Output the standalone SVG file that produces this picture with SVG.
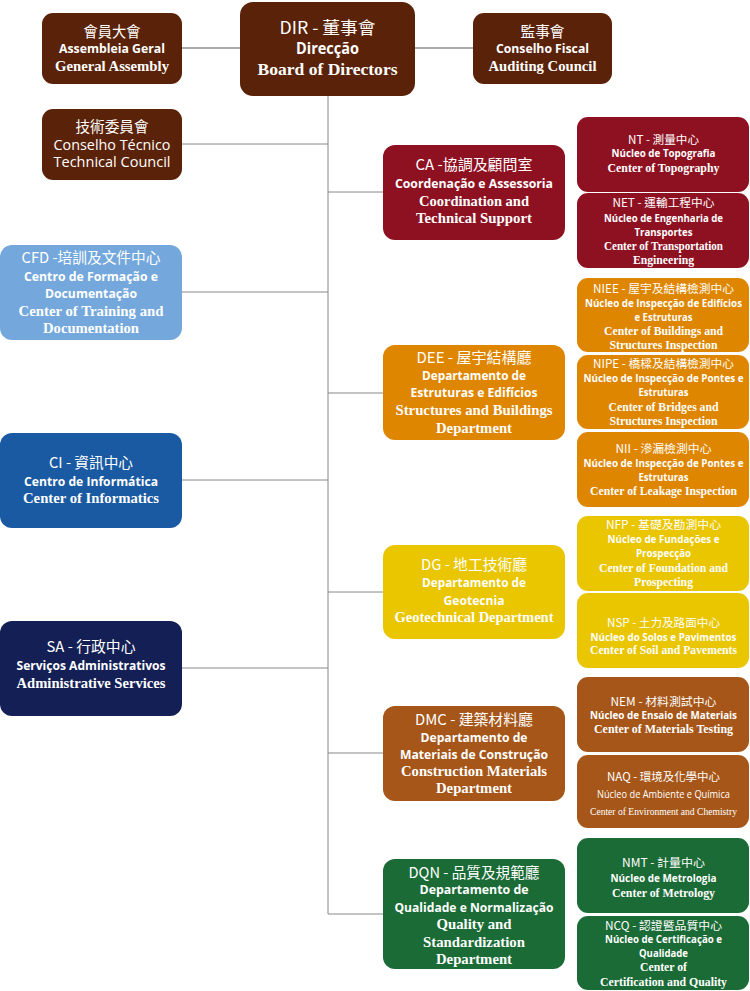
<svg xmlns="http://www.w3.org/2000/svg" width="750" height="991" viewBox="0 0 750 991">
<style>
text{fill:#fff;text-anchor:middle}
.cjk{font-family:"Noto Sans CJK TC","Noto Sans",sans-serif}
.pt{font-family:"Open Sans","Noto Sans",sans-serif;font-weight:700}
.en{font-family:"Liberation Serif",serif;font-weight:700}
.reg{font-weight:400}
.big .cjk{font-size:15px}.big .pt{font-size:13px}.big .en{font-size:14.5px}
.sub .cjk{font-size:11.5px}.sub .pt{font-size:11px}.sub .en{font-size:12.5px}
.sub .pt.lg{font-size:10.5px}
.c1{stroke:#aaa;stroke-width:2;fill:none}
.c2{stroke:#888;stroke-width:1;fill:none}
.top rect{fill:#5a2309}
.ca rect{fill:#8e1122}
.dee rect{fill:#de8600}
.dg rect{fill:#eac600}
.dmc rect{fill:#a55618}
.dqn rect{fill:#1b6b36}
</style>
<g id="connectors">
<path class="c1" d="M182 48H240M415 48H473"/>
<path class="c2" d="M328 96V914M182 144H328M328 192H383M182 292H328M328 393H383M182 480H328M328 592H383M182 668H328M328 753H383M328 914H383"/>
</g>
<g id="assembly" class="top big">
<rect x="42" y="13" width="140" height="71" rx="11"/>
<text x="112" y="37" class="cjk" textLength="57" lengthAdjust="spacingAndGlyphs">會員大會</text>
<text x="112" y="53" class="pt" textLength="106" lengthAdjust="spacingAndGlyphs">Assembleia Geral</text>
<text x="112" y="71" class="en" textLength="114" lengthAdjust="spacingAndGlyphs">General Assembly</text>
</g>
<g id="dir" class="top big">
<rect x="240" y="2" width="175" height="94" rx="13"/>
<text x="327.5" y="34" class="cjk" textLength="96" lengthAdjust="spacingAndGlyphs" style="font-size:17px">DIR - 董事會</text>
<text x="327.5" y="54" class="pt" textLength="63" lengthAdjust="spacingAndGlyphs" style="font-size:16px">Direcção</text>
<text x="327.5" y="75" class="en" textLength="140" lengthAdjust="spacingAndGlyphs" style="font-size:17px">Board of Directors</text>
</g>
<g id="fiscal" class="top big">
<rect x="473" y="13" width="139" height="71" rx="11"/>
<text x="542.5" y="37" class="cjk" textLength="44" lengthAdjust="spacingAndGlyphs">監事會</text>
<text x="542.5" y="53" class="pt" textLength="93" lengthAdjust="spacingAndGlyphs">Conselho Fiscal</text>
<text x="542.5" y="71" class="en" textLength="108" lengthAdjust="spacingAndGlyphs">Auditing Council</text>
</g>
<g id="technical" class="top big">
<rect x="42" y="109" width="140" height="71" rx="11"/>
<text x="112" y="132" class="cjk" textLength="73" lengthAdjust="spacingAndGlyphs">技術委員會</text>
<text x="112" y="150" class="pt reg" textLength="117" lengthAdjust="spacingAndGlyphs" style="font-size:14px">Conselho Técnico</text>
<text x="112" y="167" class="pt reg" textLength="117" lengthAdjust="spacingAndGlyphs" style="font-size:14px">Technical Council</text>
</g>
<g id="cfd" class="big">
<rect x="0" y="245" width="182" height="95" rx="12" fill="#74a8dc"/>
<text x="91" y="263" class="cjk" textLength="139" lengthAdjust="spacingAndGlyphs">CFD -培訓及文件中心</text>
<text x="91" y="281" class="pt" textLength="134" lengthAdjust="spacingAndGlyphs">Centro de Formação e</text>
<text x="91" y="298" class="pt" textLength="92" lengthAdjust="spacingAndGlyphs">Documentação</text>
<text x="91" y="316" class="en" textLength="145" lengthAdjust="spacingAndGlyphs">Center of Training and</text>
<text x="91" y="333" class="en" textLength="96" lengthAdjust="spacingAndGlyphs">Documentation</text>
</g>
<g id="ci" class="big">
<rect x="0" y="433" width="182" height="95" rx="12" fill="#1a5aa2"/>
<text x="91" y="468" class="cjk" textLength="84" lengthAdjust="spacingAndGlyphs">CI - 資訊中心</text>
<text x="91" y="486" class="pt" textLength="134" lengthAdjust="spacingAndGlyphs">Centro de Informática</text>
<text x="91" y="503" class="en" textLength="136" lengthAdjust="spacingAndGlyphs">Center of Informatics</text>
</g>
<g id="sa" class="big">
<rect x="0" y="621" width="182" height="95" rx="12" fill="#141f55"/>
<text x="91" y="652" class="cjk" textLength="89" lengthAdjust="spacingAndGlyphs">SA - 行政中心</text>
<text x="91" y="670" class="pt" textLength="149" lengthAdjust="spacingAndGlyphs">Serviços Administrativos</text>
<text x="91" y="688" class="en" textLength="149" lengthAdjust="spacingAndGlyphs">Administrative Services</text>
</g>
<g id="ca" class="ca big">
<rect x="383" y="145" width="182" height="95" rx="12"/>
<text x="474" y="170" class="cjk" textLength="117" lengthAdjust="spacingAndGlyphs">CA -協調及顧問室</text>
<text x="474" y="188" class="pt" textLength="158" lengthAdjust="spacingAndGlyphs">Coordenação e Assessoria</text>
<text x="474" y="206" class="en" textLength="110" lengthAdjust="spacingAndGlyphs">Coordination and</text>
<text x="474" y="223" class="en" textLength="116" lengthAdjust="spacingAndGlyphs">Technical Support</text>
</g>
<g id="nt" class="ca sub">
<rect x="577" y="117" width="172" height="75" rx="11"/>
<text x="663.5" y="144" class="cjk" textLength="71" lengthAdjust="spacingAndGlyphs">NT - 測量中心</text>
<text x="663.5" y="157" class="pt" textLength="104" lengthAdjust="spacingAndGlyphs">Núcleo de Topografia</text>
<text x="663.5" y="172" class="en" textLength="112" lengthAdjust="spacingAndGlyphs">Center of Topography</text>
</g>
<g id="net" class="ca sub">
<rect x="577" y="193" width="172" height="75" rx="11"/>
<text x="663.5" y="207" class="cjk" textLength="102" lengthAdjust="spacingAndGlyphs">NET - 運輸工程中心</text>
<text x="663.5" y="222" class="pt" textLength="119" lengthAdjust="spacingAndGlyphs">Núcleo de Engenharia de</text>
<text x="663.5" y="236" class="pt" textLength="58" lengthAdjust="spacingAndGlyphs">Transportes</text>
<text x="663.5" y="250" class="en" textLength="119" lengthAdjust="spacingAndGlyphs">Center of Transportation</text>
<text x="663.5" y="264" class="en" textLength="61" lengthAdjust="spacingAndGlyphs">Engineering</text>
</g>
<g id="dee" class="dee big">
<rect x="383" y="345" width="182" height="95" rx="12"/>
<text x="474" y="363" class="cjk" textLength="115" lengthAdjust="spacingAndGlyphs">DEE - 屋宇結構廳</text>
<text x="474" y="380" class="pt" textLength="104" lengthAdjust="spacingAndGlyphs">Departamento de</text>
<text x="474" y="397" class="pt" textLength="127" lengthAdjust="spacingAndGlyphs">Estruturas e Edifícios</text>
<text x="474" y="415" class="en" textLength="157" lengthAdjust="spacingAndGlyphs">Structures and Buildings</text>
<text x="474" y="433" class="en" textLength="76" lengthAdjust="spacingAndGlyphs">Department</text>
</g>
<g id="niee" class="dee sub">
<rect x="577" y="278" width="172" height="74" rx="11"/>
<text x="663.5" y="293" class="cjk" textLength="141" lengthAdjust="spacingAndGlyphs">NIEE - 屋宇及結構檢測中心</text>
<text x="663.5" y="307" class="pt lg" textLength="157" lengthAdjust="spacingAndGlyphs">Núcleo de Inspecção de Edifícios</text>
<text x="663.5" y="321" class="pt" textLength="58" lengthAdjust="spacingAndGlyphs">e Estruturas</text>
<text x="663.5" y="335" class="en" textLength="119" lengthAdjust="spacingAndGlyphs">Center of Buildings and</text>
<text x="663.5" y="349" class="en" textLength="108" lengthAdjust="spacingAndGlyphs">Structures Inspection</text>
</g>
<g id="nipe" class="dee sub">
<rect x="577" y="355" width="172" height="74" rx="11"/>
<text x="663.5" y="368" class="cjk" textLength="141" lengthAdjust="spacingAndGlyphs">NIPE - 橋樑及結構檢測中心</text>
<text x="663.5" y="382" class="pt lg" textLength="160" lengthAdjust="spacingAndGlyphs">Núcleo de Inspecção de Pontes e</text>
<text x="663.5" y="396" class="pt" textLength="50" lengthAdjust="spacingAndGlyphs">Estruturas</text>
<text x="663.5" y="411" class="en" textLength="110" lengthAdjust="spacingAndGlyphs">Center of Bridges and</text>
<text x="663.5" y="425" class="en" textLength="108" lengthAdjust="spacingAndGlyphs">Structures Inspection</text>
</g>
<g id="nii" class="dee sub">
<rect x="577" y="432" width="172" height="75" rx="11"/>
<text x="663.5" y="453" class="cjk" textLength="96" lengthAdjust="spacingAndGlyphs">NII - 滲漏檢測中心</text>
<text x="663.5" y="467" class="pt lg" textLength="160" lengthAdjust="spacingAndGlyphs">Núcleo de Inspecção de Pontes e</text>
<text x="663.5" y="481" class="pt" textLength="50" lengthAdjust="spacingAndGlyphs">Estruturas</text>
<text x="663.5" y="495" class="en" textLength="147" lengthAdjust="spacingAndGlyphs">Center of Leakage Inspection</text>
</g>
<g id="dg" class="dg big">
<rect x="383" y="545" width="182" height="94" rx="12"/>
<text x="474" y="570" class="cjk" textLength="106" lengthAdjust="spacingAndGlyphs">DG - 地工技術廳</text>
<text x="474" y="587" class="pt" textLength="104" lengthAdjust="spacingAndGlyphs">Departamento de</text>
<text x="474" y="605" class="pt" textLength="61" lengthAdjust="spacingAndGlyphs">Geotecnia</text>
<text x="474" y="622" class="en" textLength="159" lengthAdjust="spacingAndGlyphs">Geotechnical Department</text>
</g>
<g id="nfp" class="dg sub">
<rect x="577" y="516" width="172" height="75" rx="11"/>
<text x="663.5" y="529" class="cjk" textLength="115" lengthAdjust="spacingAndGlyphs">NFP - 基礎及勘測中心</text>
<text x="663.5" y="543" class="pt" textLength="112" lengthAdjust="spacingAndGlyphs">Núcleo de Fundações e</text>
<text x="663.5" y="557" class="pt" textLength="55" lengthAdjust="spacingAndGlyphs">Prospecção</text>
<text x="663.5" y="572" class="en" textLength="129" lengthAdjust="spacingAndGlyphs">Center of Foundation and</text>
<text x="663.5" y="586" class="en" textLength="59" lengthAdjust="spacingAndGlyphs">Prospecting</text>
</g>
<g id="nsp" class="dg sub">
<rect x="577" y="593" width="172" height="75" rx="11"/>
<text x="663.5" y="627" class="cjk" textLength="113" lengthAdjust="spacingAndGlyphs">NSP - 土力及路面中心</text>
<text x="663.5" y="641" class="pt lg" textLength="146" lengthAdjust="spacingAndGlyphs">Núcleo do Solos e Pavimentos</text>
<text x="663.5" y="654" class="en" textLength="147" lengthAdjust="spacingAndGlyphs">Center of Soil and Pavements</text>
</g>
<g id="dmc" class="dmc big">
<rect x="383" y="706" width="182" height="95" rx="12"/>
<text x="474" y="725" class="cjk" textLength="118" lengthAdjust="spacingAndGlyphs">DMC - 建築材料廳</text>
<text x="474" y="742" class="pt" textLength="107" lengthAdjust="spacingAndGlyphs">Departamento de</text>
<text x="474" y="759" class="pt" textLength="148" lengthAdjust="spacingAndGlyphs">Materiais de Construção</text>
<text x="474" y="776" class="en" textLength="146" lengthAdjust="spacingAndGlyphs">Construction Materials</text>
<text x="474" y="793" class="en" textLength="76" lengthAdjust="spacingAndGlyphs">Department</text>
</g>
<g id="nem" class="dmc sub">
<rect x="577" y="677" width="172" height="75" rx="11"/>
<text x="663.5" y="706" class="cjk" textLength="106" lengthAdjust="spacingAndGlyphs">NEM - 材料測試中心</text>
<text x="663.5" y="719" class="pt lg" textLength="147" lengthAdjust="spacingAndGlyphs">Núcleo de Ensaio de Materiais</text>
<text x="663.5" y="733" class="en" textLength="139" lengthAdjust="spacingAndGlyphs">Center of Materials Testing</text>
</g>
<g id="naq" class="dmc sub">
<rect x="577" y="755" width="172" height="73" rx="11"/>
<text x="663.5" y="781" class="cjk" textLength="113" lengthAdjust="spacingAndGlyphs">NAQ - 環境及化學中心</text>
<text x="663.5" y="798" class="pt reg" textLength="133" lengthAdjust="spacingAndGlyphs">Núcleo de Ambiente e Química</text>
<text x="663.5" y="815" class="en reg" textLength="147" lengthAdjust="spacingAndGlyphs" style="font-size:11px">Center of Environment and Chemistry</text>
</g>
<g id="dqn" class="dqn big">
<rect x="383" y="859" width="182" height="110" rx="12"/>
<text x="474" y="878" class="cjk" textLength="131" lengthAdjust="spacingAndGlyphs">DQN - 品質及規範廳</text>
<text x="474" y="894" class="pt" textLength="109" lengthAdjust="spacingAndGlyphs">Departamento de</text>
<text x="474" y="912" class="pt" textLength="159" lengthAdjust="spacingAndGlyphs">Qualidade e Normalização</text>
<text x="474" y="929" class="en" textLength="75" lengthAdjust="spacingAndGlyphs">Quality and</text>
<text x="474" y="947" class="en" textLength="102" lengthAdjust="spacingAndGlyphs">Standardization</text>
<text x="474" y="964" class="en" textLength="76" lengthAdjust="spacingAndGlyphs">Department</text>
</g>
<g id="nmt" class="dqn sub">
<rect x="577" y="838" width="172" height="75" rx="11"/>
<text x="663.5" y="867" class="cjk" textLength="83" lengthAdjust="spacingAndGlyphs">NMT - 計量中心</text>
<text x="663.5" y="882" class="pt" textLength="106" lengthAdjust="spacingAndGlyphs">Núcleo de Metrologia</text>
<text x="663.5" y="897" class="en" textLength="103" lengthAdjust="spacingAndGlyphs">Center of Metrology</text>
</g>
<g id="ncq" class="dqn sub">
<rect x="577" y="916" width="172" height="74" rx="11"/>
<text x="663.5" y="930" class="cjk" textLength="117" lengthAdjust="spacingAndGlyphs">NCQ - 認證暨品質中心</text>
<text x="663.5" y="943" class="pt" textLength="117" lengthAdjust="spacingAndGlyphs">Núcleo de Certificação e</text>
<text x="663.5" y="957" class="pt" textLength="49" lengthAdjust="spacingAndGlyphs">Qualidade</text>
<text x="663.5" y="971" class="en" textLength="47" lengthAdjust="spacingAndGlyphs">Center of</text>
<text x="663.5" y="986" class="en" textLength="127" lengthAdjust="spacingAndGlyphs">Certification and Quality</text>
</g>
</svg>
